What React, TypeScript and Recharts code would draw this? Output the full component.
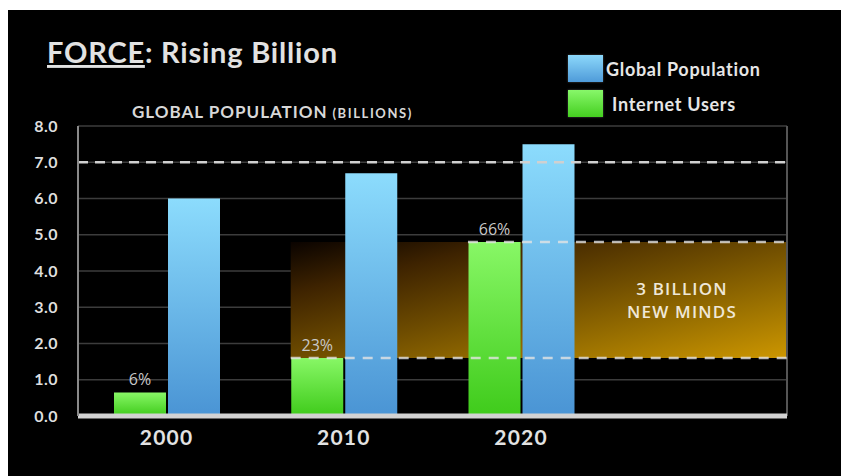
import React from 'react';
import {
  BarChart,
  Bar,
  XAxis,
  YAxis,
  CartesianGrid,
  ReferenceLine,
  ReferenceArea,
  LabelList,
  Legend,
} from 'recharts';

// ---------- data ----------
const categories = ['2000', '2010', '2020', ''];
const globalPopulation = [6.0, 6.7, 7.5, null];
const internetUsers = [0.65, 1.6, 4.8, null];
const internetShare = ['6%', '23%', '66%', ''];
const yTicks = [0, 1, 2, 3, 4, 5, 6, 7, 8];
const seriesNames = ['Global Population', 'Internet Users'];
const highlightLevel = 7;
const newMindsLow = 1.6;
const newMindsHigh = 4.8;
const newMindsStart = [1.2, 2.2]; // band-index positions (lower line, upper line)
const bandCount = categories.length;
const calloutLines = ['3 BILLION', 'NEW MINDS'];
const titleMain = 'FORCE';
const titleRest = ': Rising Billion';
const axisTitle = 'GLOBAL POPULATION';
const axisUnit = ' (BILLIONS)';

const data = categories.map((year, i) => ({
  year,
  slot: i + 0.5,
  pop: globalPopulation[i],
  net: internetUsers[i],
  share: internetShare[i],
}));

const FONT = 'Lato, "Open Sans", sans-serif';

const LegendBox = () => (
  <div style={{ fontFamily: FONT }}>
    {seriesNames.map((name, i) => (
      <div key={name} style={{ display: 'flex', alignItems: 'center', height: 35 }}>
        <div
          style={{
            width: 35,
            height: 27,
            background:
              i === 0
                ? 'linear-gradient(#8cd8fb, #4f9bd9)'
                : 'linear-gradient(#88f76a, #44cf20)',
            boxShadow: '0 0 2px rgba(255,255,255,0.3)',
          }}
        />
        <span
          style={{
            color: '#e6e6e6',
            fontWeight: 700,
            fontSize: 18,
            letterSpacing: 0.7,
            marginLeft: i === 0 ? 3 : 9,
            whiteSpace: 'nowrap',
          }}
        >
          {name}
        </span>
      </div>
    ))}
  </div>
);

export default function App() {
  return (
    <div style={{ position: 'absolute', left: 0, top: 0, width: 841, height: 476, background: '#fff' }}>
      <div style={{ position: 'absolute', left: 8, top: 10, width: 833, height: 466, background: '#000' }} />
      <div style={{ position: 'absolute', left: 0, top: 0 }}>
        <BarChart
          width={841}
          height={476}
          data={data}
          margin={{ top: 126, right: 54, left: 18, bottom: 30 }}
          barGap={2}
          barSize={52}
        >
          <defs>
            <linearGradient id="blueGrad" x1="0" y1="0" x2="0" y2="1">
              <stop offset="0" stopColor="#8cdcfd" />
              <stop offset="1" stopColor="#4a94d4" />
            </linearGradient>
            <linearGradient id="greenGrad" x1="0" y1="0" x2="0" y2="1">
              <stop offset="0" stopColor="#88f766" />
              <stop offset="1" stopColor="#3fcb1b" />
            </linearGradient>
            <linearGradient id="mindsGrad" x1="0" y1="0" x2="1" y2="1">
              <stop offset="0" stopColor="#0a0300" />
              <stop offset="0.22" stopColor="#3e2300" />
              <stop offset="0.5" stopColor="#6e4c00" />
              <stop offset="0.75" stopColor="#9c7200" />
              <stop offset="1" stopColor="#cc9600" />
            </linearGradient>
          </defs>
          <CartesianGrid vertical={false} stroke="#3c3c3c" strokeWidth={1.5} />
          <XAxis
            dataKey="year"
            axisLine={{ stroke: '#d2d2d2', strokeWidth: 5 }}
            tickLine={false}
            tickMargin={8}
            tick={{ fill: '#e2e2e2', fontSize: 21, fontWeight: 700, fontFamily: FONT, letterSpacing: 1.2 }}
          />
          <XAxis
            xAxisId="ref"
            dataKey="slot"
            type="number"
            domain={[0, bandCount]}
            hide
            allowDataOverflow
          />
          <YAxis
            domain={[0, 8]}
            ticks={yTicks}
            width={60}
            tickFormatter={(v: number) => v.toFixed(1)}
            axisLine={{ stroke: '#8a8a8a', strokeWidth: 2 }}
            tickLine={false}
            tickSize={12}
            tickMargin={8}
            tick={{ fill: '#dedede', fontSize: 16, fontWeight: 700, fontFamily: FONT, letterSpacing: 0.5 }}
          />
          <ReferenceArea
            xAxisId="ref"
            x1={newMindsStart[0]}
            x2={bandCount}
            y1={newMindsLow}
            y2={newMindsHigh}
            fill="url(#mindsGrad)"
            fillOpacity={1}
            stroke="none"
            ifOverflow="visible"
          />
          <ReferenceLine
            y={highlightLevel}
            stroke="#d0d0d0"
            strokeWidth={2.5}
            strokeDasharray="10 7"
          />
          <ReferenceLine xAxisId="ref" x={bandCount} stroke="#555" strokeWidth={2} ifOverflow="visible" />
          <Legend
            layout="vertical"
            align="center"
            verticalAlign="middle"
            wrapperStyle={{ left: 568, top: 51, width: 230 }}
            content={() => <LegendBox />}
          />
          <Bar dataKey="net" name={seriesNames[1]} fill="url(#greenGrad)" isAnimationActive={false}>
            <LabelList
              dataKey="share"
              position="top"
              offset={7}
              fill="#c8c8c8"
              fontSize={16}
              fontFamily='"Open Sans", sans-serif'
            />
          </Bar>
          <Bar dataKey="pop" name={seriesNames[0]} fill="url(#blueGrad)" isAnimationActive={false} />
          <ReferenceLine
            xAxisId="ref"
            segment={[
              { x: newMindsStart[0], y: newMindsLow },
              { x: bandCount, y: newMindsLow },
            ]}
            stroke="rgba(228,228,228,0.8)"
            strokeWidth={2.5}
            strokeDasharray="10 8"
            ifOverflow="visible"
          />
          <ReferenceLine
            xAxisId="ref"
            segment={[
              { x: newMindsStart[1], y: newMindsHigh },
              { x: bandCount, y: newMindsHigh },
            ]}
            stroke="rgba(228,228,228,0.8)"
            strokeWidth={2.5}
            strokeDasharray="10 8"
            ifOverflow="visible"
          />
        </BarChart>
      </div>
      <svg
        width={841}
        height={476}
        style={{ position: 'absolute', left: 0, top: 0, pointerEvents: 'none' }}
      >
        <text x={47} y={63} fontFamily={FONT} fontSize={29} fontWeight={700} fill="#e2e2e2" letterSpacing={0.8}>
          <tspan style={{ textDecoration: 'underline' }}>{titleMain}</tspan>
          {titleRest}
        </text>
        <text x={132} y={118} fontFamily={FONT} fontWeight={700} fill="#d8d8d8">
          <tspan fontSize={17} letterSpacing={1}>{axisTitle}</tspan>
          <tspan fontSize={13} letterSpacing={1.6}>{axisUnit}</tspan>
        </text>
        {calloutLines.map((line, i) => (
          <text
            key={line}
            x={682}
            y={295 + i * 23}
            textAnchor="middle"
            fontFamily='"Open Sans", sans-serif'
            fontSize={17}
            fontWeight={600}
            letterSpacing={1.2}
            fill="#efe7d8"
          >
            {line}
          </text>
        ))}
      </svg>
    </div>
  );
}
